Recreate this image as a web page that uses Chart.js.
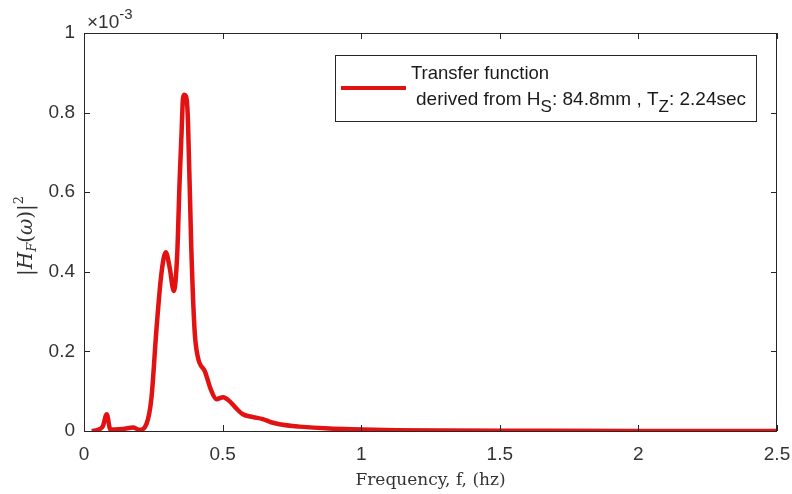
<!DOCTYPE html>
<html>
<head>
<meta charset="utf-8">
<script src="https://cdn.jsdelivr.net/npm/chart.js@4.4.1/dist/chart.umd.min.js"></script>
<style>
  html, body { margin: 0; padding: 0; background: #fff; }
  #wrap { width: 792px; height: 494px; }
</style>
</head>
<body>
<div id="wrap"><canvas id="tf" width="792" height="494"></canvas></div>
<script>
// frequency (hz) and |H_F(w)|^2 in units of 1e-3
const freqHz = [0.028, 0.05, 0.068, 0.082, 0.095, 0.11, 0.141, 0.177, 0.2, 0.2255, 0.2435, 0.261, 0.279, 0.295, 0.309, 0.324,
  0.336, 0.345, 0.352, 0.357, 0.362, 0.367, 0.371, 0.375, 0.387, 0.399, 0.411, 0.436, 0.46, 0.478, 0.502, 0.525, 0.545, 0.573, 0.61,
  0.645, 0.675, 0.705, 0.777, 0.885, 1.005, 1.125, 1.3, 1.6, 2.0, 2.5];
const hfSquared = [0, 0.003, 0.012, 0.042, 0.004, 0.004, 0.005, 0.009, 0.003, 0.018, 0.084, 0.252, 0.394, 0.449, 0.411, 0.352,
  0.44, 0.629, 0.75, 0.835, 0.845, 0.842, 0.83, 0.78, 0.461, 0.252, 0.185, 0.15, 0.1, 0.08, 0.085, 0.075, 0.06, 0.042, 0.035,
  0.03, 0.022, 0.017, 0.011, 0.006, 0.004, 0.002, 0.001, 0.0005, 0.0003, 0.0002];
const xTicks = [0, 0.5, 1, 1.5, 2, 2.5];
const yTicks = [0, 0.2, 0.4, 0.6, 0.8, 1];

const AXIS = '#262626';
const RED = '#e31212';
const SANS = '"Liberation Sans", Arial, sans-serif';
const SERIF = '"DejaVu Serif", "Liberation Serif", serif';

// draws a run of text pieces, each with its own font and baseline shift
function drawRuns(ctx, x, y, runs) {
  runs.forEach(r => {
    ctx.font = r.font;
    ctx.fillText(r.text, x, y + (r.dy || 0));
    x += ctx.measureText(r.text).width + (r.gap || 0);
  });
}

const decorations = {
  id: 'decorations',
  afterDraw(chart) {
    const ctx = chart.ctx;
    const { left, right, top, bottom } = chart.chartArea;
    const xs = chart.scales.x, ys = chart.scales.y;
    ctx.save();
    ctx.strokeStyle = AXIS;
    ctx.lineWidth = 1;
    ctx.strokeRect(left + 0.5, top + 0.5, right - left - 1, bottom - top);

    // inward tick marks on all four sides
    ctx.beginPath();
    xTicks.forEach(v => {
      const px = Math.round(xs.getPixelForValue(v)) + 0.5;
      ctx.moveTo(px, bottom); ctx.lineTo(px, bottom - 6);
      ctx.moveTo(px, top); ctx.lineTo(px, top + 6);
    });
    yTicks.forEach(v => {
      const py = Math.round(ys.getPixelForValue(v)) + 0.5;
      ctx.moveTo(left, py); ctx.lineTo(left + 6, py);
      ctx.moveTo(right, py); ctx.lineTo(right - 6, py);
    });
    ctx.stroke();

    // exponent above the y axis
    ctx.fillStyle = '#333';
    ctx.textBaseline = 'alphabetic';
    ctx.textAlign = 'left';
    drawRuns(ctx, 87, 28, [
      { text: '\u00d710', font: '19px ' + SANS },
      { text: '-3', font: '15px ' + SANS, dy: -9 }
    ]);

    // y axis title |H_F(w)|^2
    ctx.save();
    ctx.translate(32, 276);
    ctx.rotate(-Math.PI / 2);
    ctx.fillStyle = '#333';
    drawRuns(ctx, 0, 0, [
      { text: '|', font: '20px ' + SERIF },
      { text: 'H', font: 'italic 20px ' + SERIF },
      { text: 'F', font: 'italic 13px ' + SERIF, dy: 4 },
      { text: '(', font: '20px ' + SERIF },
      { text: '\u03c9', font: 'italic 20px ' + SERIF },
      { text: ')|', font: '20px ' + SERIF },
      { text: '2', font: '13px ' + SERIF, dy: -9 }
    ]);
    ctx.restore();

    // x axis title
    ctx.font = '17px ' + SERIF;
    ctx.textAlign = 'center';
    ctx.fillStyle = '#333';
    ctx.fillText('Frequency, f, (hz)', (left + right) / 2, 485);

    // legend box
    ctx.fillStyle = '#fff';
    ctx.fillRect(335, 55, 421, 66);
    ctx.strokeStyle = AXIS;
    ctx.lineWidth = 1;
    ctx.strokeRect(335.5, 55.5, 421, 66);
    ctx.strokeStyle = RED;
    ctx.lineWidth = 4;
    ctx.beginPath();
    ctx.moveTo(341, 88); ctx.lineTo(406, 88);
    ctx.stroke();
    ctx.fillStyle = '#1a1a1a';
    ctx.textAlign = 'left';
    ctx.font = '18.5px ' + SANS;
    ctx.fillText('Transfer function', 411, 79);
    drawRuns(ctx, 416, 105, [
      { text: 'derived from H', font: '19px ' + SANS },
      { text: 'S', font: '17px ' + SANS, dy: 7 },
      { text: ': 84.8mm , T', font: '19px ' + SANS },
      { text: 'Z', font: '17px ' + SANS, dy: 7 },
      { text: ': 2.24sec', font: '19px ' + SANS }
    ]);
    ctx.restore();
  }
};

const tickText = v => String(v);

new Chart(document.getElementById('tf'), {
  type: 'line',
  data: {
    datasets: [{
      label: 'Transfer function',
      data: freqHz.map((f, i) => ({ x: f, y: hfSquared[i] })),
      borderColor: RED,
      borderWidth: 4.5,
      pointRadius: 0,
      cubicInterpolationMode: 'monotone',
      fill: false
    }]
  },
  options: {
    responsive: false,
    animation: false,
    layout: { padding: { top: 33, right: 15, left: 0, bottom: 0 } },
    plugins: { legend: { display: false }, tooltip: { enabled: false } },
    scales: {
      x: {
        type: 'linear',
        min: 0, max: 2.5,
        afterBuildTicks: s => { s.ticks = xTicks.map(v => ({ value: v })); },
        afterFit: s => { s.height = 63; s.paddingLeft = 0; s.paddingRight = 0; },
        grid: { display: false, drawTicks: false },
        border: { display: false },
        ticks: { color: '#333', padding: 12, maxRotation: 0, callback: tickText, font: { family: SANS, size: 19 } }
      },
      y: {
        min: 0, max: 1,
        afterBuildTicks: s => { s.ticks = yTicks.map(v => ({ value: v })); },
        afterFit: s => { s.width = 84; s.paddingTop = 0; s.paddingBottom = 0; },
        grid: { display: false, drawTicks: false },
        border: { display: false },
        ticks: { color: '#333', padding: 9, callback: tickText, font: { family: SANS, size: 19 } }
      }
    }
  },
  plugins: [decorations]
});
</script>
</body>
</html>
